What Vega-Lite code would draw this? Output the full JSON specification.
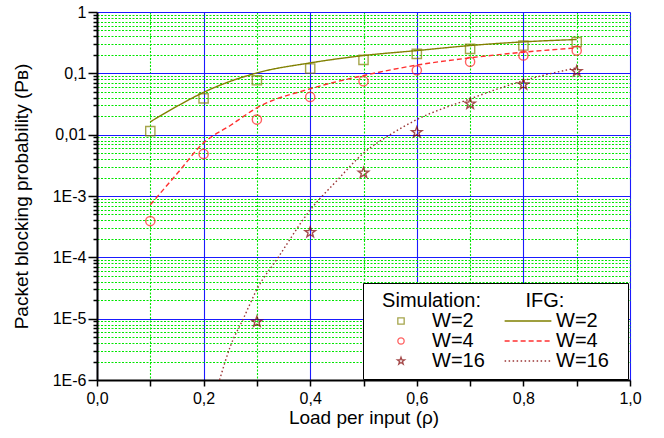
{
  "$schema": "https://vega.github.io/schema/vega-lite/v6.json",
  "width": 533,
  "height": 368,
  "autosize": {"type": "none"},
  "padding": {"left": 97, "top": 12, "right": 34, "bottom": 58},
  "background": "white",
  "config": {"font": "Liberation Sans", "view": {"stroke": null}},
  "datasets": {
    "sim": [
      {"rho": 0.1, "pb": 0.0114, "sim": "W=2"},
      {"rho": 0.2, "pb": 0.039, "sim": "W=2"},
      {"rho": 0.3, "pb": 0.077, "sim": "W=2"},
      {"rho": 0.4, "pb": 0.12, "sim": "W=2"},
      {"rho": 0.5, "pb": 0.166, "sim": "W=2"},
      {"rho": 0.6, "pb": 0.208, "sim": "W=2"},
      {"rho": 0.7, "pb": 0.251, "sim": "W=2"},
      {"rho": 0.8, "pb": 0.284, "sim": "W=2"},
      {"rho": 0.9, "pb": 0.322, "sim": "W=2"},
      {"rho": 0.1, "pb": 0.00039, "sim": "W=4"},
      {"rho": 0.2, "pb": 0.00486, "sim": "W=4"},
      {"rho": 0.3, "pb": 0.0176, "sim": "W=4"},
      {"rho": 0.4, "pb": 0.0413, "sim": "W=4"},
      {"rho": 0.5, "pb": 0.0743, "sim": "W=4"},
      {"rho": 0.6, "pb": 0.112, "sim": "W=4"},
      {"rho": 0.7, "pb": 0.154, "sim": "W=4"},
      {"rho": 0.8, "pb": 0.195, "sim": "W=4"},
      {"rho": 0.9, "pb": 0.235, "sim": "W=4"},
      {"rho": 0.3, "pb": 0.0000089, "sim": "W=16"},
      {"rho": 0.4, "pb": 0.000256, "sim": "W=16"},
      {"rho": 0.5, "pb": 0.00238, "sim": "W=16"},
      {"rho": 0.6, "pb": 0.0109, "sim": "W=16"},
      {"rho": 0.7, "pb": 0.0318, "sim": "W=16"},
      {"rho": 0.8, "pb": 0.0656, "sim": "W=16"},
      {"rho": 0.9, "pb": 0.108, "sim": "W=16"}
    ],
    "ifg": [
      {"rho": 0.1, "pb": 0.0162, "ifg": "2"},
      {"rho": 0.15, "pb": 0.029, "ifg": "2"},
      {"rho": 0.2, "pb": 0.049, "ifg": "2"},
      {"rho": 0.3, "pb": 0.1015, "ifg": "2"},
      {"rho": 0.4, "pb": 0.148, "ifg": "2"},
      {"rho": 0.5, "pb": 0.195, "ifg": "2"},
      {"rho": 0.6, "pb": 0.235, "ifg": "2"},
      {"rho": 0.7, "pb": 0.284, "ifg": "2"},
      {"rho": 0.8, "pb": 0.326, "ifg": "2"},
      {"rho": 0.9, "pb": 0.356, "ifg": "2"},
      {"rho": 0.1, "pb": 0.00072, "ifg": "4"},
      {"rho": 0.15, "pb": 0.0023, "ifg": "4"},
      {"rho": 0.2, "pb": 0.00735, "ifg": "4"},
      {"rho": 0.25, "pb": 0.0141, "ifg": "4"},
      {"rho": 0.3, "pb": 0.0274, "ifg": "4"},
      {"rho": 0.4, "pb": 0.056, "ifg": "4"},
      {"rho": 0.5, "pb": 0.092, "ifg": "4"},
      {"rho": 0.6, "pb": 0.136, "ifg": "4"},
      {"rho": 0.7, "pb": 0.179, "ifg": "4"},
      {"rho": 0.8, "pb": 0.221, "ifg": "4"},
      {"rho": 0.9, "pb": 0.26, "ifg": "4"},
      {"rho": 0.23, "pb": 0.000001, "ifg": "16"},
      {"rho": 0.25, "pb": 0.0000035, "ifg": "16"},
      {"rho": 0.275, "pb": 0.0000102, "ifg": "16"},
      {"rho": 0.3, "pb": 0.00003, "ifg": "16"},
      {"rho": 0.34, "pb": 0.0001, "ifg": "16"},
      {"rho": 0.4, "pb": 0.00059, "ifg": "16"},
      {"rho": 0.45, "pb": 0.00178, "ifg": "16"},
      {"rho": 0.5, "pb": 0.005, "ifg": "16"},
      {"rho": 0.55, "pb": 0.01, "ifg": "16"},
      {"rho": 0.6, "pb": 0.0176, "ifg": "16"},
      {"rho": 0.7, "pb": 0.0384, "ifg": "16"},
      {"rho": 0.8, "pb": 0.076, "ifg": "16"},
      {"rho": 0.9, "pb": 0.123, "ifg": "16"}
    ]
  },
  "encoding": {
    "x": {
      "field": "rho",
      "type": "quantitative",
      "scale": {"domain": [0, 1], "nice": false, "zero": false},
      "axis": {
        "title": "Load per input (ρ)",
        "titleFontSize": 19,
        "titleFontWeight": "normal",
        "titleColor": "black",
        "titlePadding": 2,
        "values": [0, 0.1, 0.2, 0.3, 0.4, 0.5, 0.6, 0.7, 0.8, 0.9, 1],
        "labelExpr": "abs(datum.value*5-round(datum.value*5))<0.001 ? replace(format(datum.value,'.1f'),'.',',') : ''",
        "labelFontSize": 16,
        "labelColor": "black",
        "labelPadding": 4,
        "labelOverlap": false,
        "labelBound": false,
        "labelFlush": false,
        "domainColor": "black",
        "domainWidth": 2,
        "tickColor": "black",
        "tickWidth": 1.5,
        "tickSize": 6,
        "grid": true,
        "gridColor": {"condition": {"test": "abs(datum.value*5-round(datum.value*5))<0.001", "value": "#1a1aff"}, "value": "#00e600"},
        "gridDash": {"condition": {"test": "abs(datum.value*5-round(datum.value*5))<0.001", "value": []}, "value": [2, 1.5]},
        "gridWidth": 1.1,
        "gridOpacity": 1
      }
    },
    "y": {
      "field": "pb",
      "type": "quantitative",
      "scale": {"type": "log", "domain": [0.000001, 1], "nice": false},
      "axis": {
        "title": "Packet blocking probability (Pʙ)",
        "titleFontSize": 19,
        "titleFontWeight": "normal",
        "titleColor": "black",
        "titlePadding": 21,
        "values": [0.000001, 0.000002, 0.000003, 0.000004, 0.000005, 0.000006, 0.000007, 0.000008, 0.000009,
                   0.00001, 0.00002, 0.00003, 0.00004, 0.00005, 0.00006, 0.00007, 0.00008, 0.00009,
                   0.0001, 0.0002, 0.0003, 0.0004, 0.0005, 0.0006, 0.0007, 0.0008, 0.0009,
                   0.001, 0.002, 0.003, 0.004, 0.005, 0.006, 0.007, 0.008, 0.009,
                   0.01, 0.02, 0.03, 0.04, 0.05, 0.06, 0.07, 0.08, 0.09,
                   0.1, 0.2, 0.3, 0.4, 0.5, 0.6, 0.7, 0.8, 0.9, 1],
        "labelExpr": "abs(log(datum.value)/LN10-round(log(datum.value)/LN10))<0.001 ? (datum.value >= 0.01 ? replace(format(datum.value,'~g'),'.',',') : '1E' + round(log(datum.value)/LN10)) : ''",
        "labelFontSize": 16,
        "labelColor": "black",
        "labelPadding": 2,
        "labelOverlap": false,
        "labelBound": false,
        "labelFlush": false,
        "domainColor": "black",
        "domainWidth": 2,
        "tickColor": "black",
        "tickWidth": 1.5,
        "tickSize": {"condition": {"test": "abs(log(datum.value)/LN10-round(log(datum.value)/LN10))<0.001", "value": 9}, "value": 4},
        "grid": true,
        "gridColor": {"condition": {"test": "abs(log(datum.value)/LN10-round(log(datum.value)/LN10))<0.001", "value": "#1a1aff"}, "value": "#00e600"},
        "gridDash": {"condition": {"test": "abs(log(datum.value)/LN10-round(log(datum.value)/LN10))<0.001", "value": []}, "value": [2, 1.5]},
        "gridWidth": 1.1,
        "gridOpacity": 1
      }
    }
  },
  "layer": [
    {
      "data": {"name": "ifg"},
      "mark": {"type": "line", "clip": true, "interpolate": "monotone", "strokeWidth": 1.4},
      "encoding": {
        "color": {
          "field": "ifg", "type": "nominal",
          "scale": {"domain": ["2", "4", "16"], "range": ["#808000", "#ff3030", "#993333"]},
          "legend": {
            "orient": "none", "legendX": 421, "legendY": 299, "title": null, "zindex": 2,
            "labelExpr": "'W=' + datum.label",
            "padding": 0, "rowPadding": -3, "labelFontSize": 20, "labelColor": "black", "labelOffset": 18,
            "symbolType": "M-2.75,0H2.75", "symbolSize": 289, "symbolStrokeWidth": 1.4, "symbolOffset": 0
          }
        },
        "strokeDash": {
          "field": "ifg", "type": "nominal",
          "scale": {"domain": ["2", "4", "16"], "range": [[1, 0], [5, 3], [1.5, 2.5]]},
          "legend": {
            "orient": "none", "legendX": 421, "legendY": 299, "title": null, "zindex": 2,
            "labelExpr": "'W=' + datum.label",
            "padding": 0, "rowPadding": -3, "labelFontSize": 20, "labelColor": "black", "labelOffset": 18,
            "symbolType": "M-2.75,0H2.75", "symbolSize": 289, "symbolStrokeWidth": 1.4, "symbolOffset": 0
          }
        }
      }
    },
    {
      "data": {"name": "sim"},
      "mark": {"type": "point", "filled": false, "strokeWidth": 1.4, "size": 85, "clip": true},
      "encoding": {
        "color": {
          "field": "sim", "type": "nominal",
          "scale": {"domain": ["W=2", "W=4", "W=16"], "range": ["#808000", "#ff2020", "#800000"]},
          "legend": {
            "orient": "none", "legendX": 266, "legendY": 271, "zindex": 1,
            "title": "\u200b\u00a0\u00a0Simulation:\u00a0\u00a0\u00a0\u00a0\u00a0\u00a0\u00a0\u00a0IFG:\u00a0\u00a0\u00a0\u00a0\u00a0\u00a0\u00a0\u00a0\u00a0\u00a0\u200b",
            "titleFontSize": 20, "titleFontWeight": "normal", "titleColor": "black", "titleLimit": 500, "titlePadding": 0,
            "strokeColor": "black", "fillColor": "white", "padding": 8, "rowPadding": -3,
            "labelFontSize": 20, "labelColor": "black", "labelOffset": 21, "symbolOffset": 20,
            "symbolSize": 40, "symbolStrokeWidth": 1.3
          }
        },
        "shape": {
          "field": "sim", "type": "nominal",
          "scale": {"domain": ["W=2", "W=4", "W=16"], "range": ["square", "circle", "M0,-1.2L0.282,-0.389L1.141,-0.371L0.456,0.149L0.706,0.971L0,0.48L-0.706,0.971L-0.456,0.149L-1.141,-0.371L-0.282,-0.389Z"]},
          "legend": {
            "orient": "none", "legendX": 266, "legendY": 271, "zindex": 1,
            "title": "\u200b\u00a0\u00a0Simulation:\u00a0\u00a0\u00a0\u00a0\u00a0\u00a0\u00a0\u00a0IFG:\u00a0\u00a0\u00a0\u00a0\u00a0\u00a0\u00a0\u00a0\u00a0\u00a0\u200b",
            "titleFontSize": 20, "titleFontWeight": "normal", "titleColor": "black", "titleLimit": 500, "titlePadding": 0,
            "strokeColor": "black", "fillColor": "white", "padding": 8, "rowPadding": -3,
            "labelFontSize": 20, "labelColor": "black", "labelOffset": 21, "symbolOffset": 20,
            "symbolSize": 40, "symbolStrokeWidth": 1.3
          }
        }
      }
    }
  ],
  "resolve": {
    "scale": {"color": "independent", "shape": "independent", "strokeDash": "independent"},
    "legend": {"color": "independent", "shape": "independent", "strokeDash": "independent"}
  }
}
